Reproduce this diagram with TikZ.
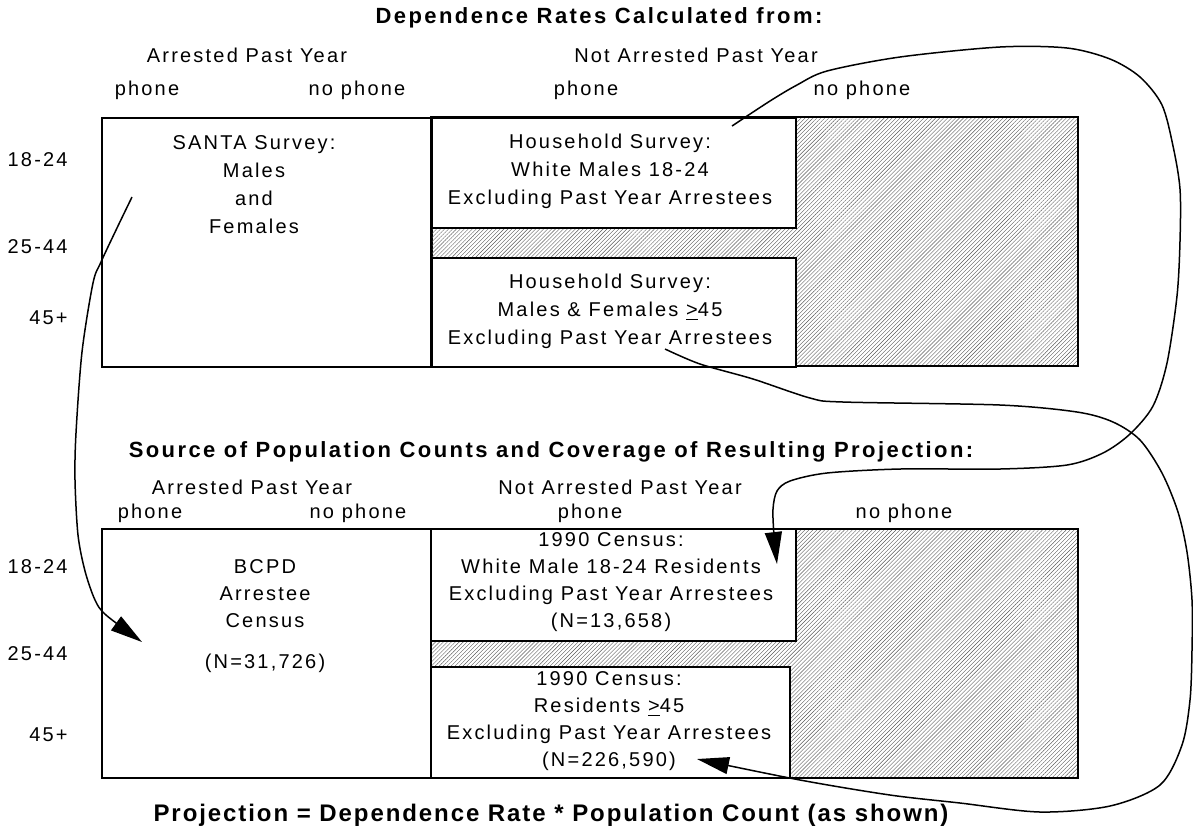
\documentclass[tikz,border=0pt]{standalone}
\usepackage{fontspec}
\setmainfont{Liberation Sans}[LetterSpace=11]
\usetikzlibrary{arrows.meta, patterns.meta}

\begin{document}
\begin{tikzpicture}[x=0.5pt, y=-0.5pt,
  cell/.style={draw, line width=0.9pt, fill=white, inner sep=0pt, anchor=north west},
  hatched/.style={draw, line width=0.9pt, inner sep=0pt, anchor=north west,
    pattern={Lines[angle=45, distance=1.4pt, line width=0.2pt]}, pattern color=black!65},
  lbl/.style={font=\fontsize{10}{14}\selectfont, inner sep=0pt},
  txt/.style={font=\fontsize{10}{14}\selectfont, align=center, inner sep=0pt},
  cntxt/.style={font=\fontsize{10}{13.6}\selectfont, align=center, inner sep=0pt},
  age/.style={font=\fontsize{10}{14}\selectfont, inner sep=0pt, anchor=east},
  head/.style={font=\bfseries\fontsize{11}{13}\selectfont, inner sep=0pt},
  link/.style={line width=0.75pt, -{Triangle[length=16pt, width=8.5pt]}}
]
\useasboundingbox (0,0) rectangle (1193,832);

% dependence rates
\node[head] (title1) at (599,18) {Dependence Rates Calculated from:};
\node[lbl] (arr1) at (247,55) {Arrested Past Year};
\node[lbl] (notarr1) at (696,55) {Not Arrested Past Year};
\node[lbl] (ph1) at (147,90) {phone};
\node[lbl] (noph1) at (357,90) {no phone};
\node[lbl] (ph2) at (586,90) {phone};
\node[lbl] (noph2) at (862,90) {no phone};
\node[age] (ageA1) at (68,160) {18-24};
\node[age] (ageA2) at (68,247) {25-44};
\node[age] (ageA3) at (68,318) {45+};

\node[cell, minimum width=165pt, minimum height=124.5pt] (santa) at (101,117) {};
\node[hatched, minimum width=323.5pt, minimum height=124.5pt] (gapA) at (431,117) {};
\node[cell, minimum width=182pt, minimum height=55pt] (hh1) at (431,117) {};
\node[cell, minimum width=182pt, minimum height=54.5pt] (hh2) at (431,257) {};
\node[txt] (santatxt) at (254,185) {SANTA Survey:\\Males\\and\\Females};
\node[txt] (hh1txt) at (610,171) {Household Survey:\\White Males 18-24\\Excluding Past Year Arrestees};
\node[txt] (hh2txt) at (610,311) {Household Survey:\\Males \& Females \underline{>}45\\Excluding Past Year Arrestees};

% population counts
\node[head] (title2) at (551,452) {Source of Population Counts and Coverage of Resulting Projection:};
\node[lbl] (arr2) at (252,487) {Arrested Past Year};
\node[lbl] (notarr2) at (620,487) {Not Arrested Past Year};
\node[lbl] (ph3) at (150,513) {phone};
\node[lbl] (noph3) at (358,513) {no phone};
\node[lbl] (ph4) at (590,513) {phone};
\node[lbl] (noph4) at (904,513) {no phone};
\node[age] (ageB1) at (68,567) {18-24};
\node[age] (ageB2) at (68,654) {25-44};
\node[age] (ageB3) at (68,735) {45+};

\node[cell, minimum width=164.5pt, minimum height=124.5pt] (bcpd) at (101,528) {};
\node[hatched, minimum width=323.5pt, minimum height=124.5pt] (gapB) at (430,528) {};
\node[cell, minimum width=182.5pt, minimum height=56pt] (cen1) at (430,528) {};
\node[cell, minimum width=179.5pt, minimum height=55.5pt] (cen2) at (430,666) {};
\node[cntxt] (bcpdtxt) at (265,616) {BCPD\\Arrestee\\Census\\[7pt](N=31,726)};
\node[cntxt] (cen1txt) at (611,582) {1990 Census:\\White Male 18-24 Residents\\Excluding Past Year Arrestees\\(N=13,658)};
\node[cntxt] (cen2txt) at (609,721) {1990 Census:\\Residents \underline{>}45\\Excluding Past Year Arrestees\\(N=226,590)};

\node[head, font=\bfseries\fontsize{12}{14}\selectfont\addfontfeatures{LetterSpace=8}] (formula) at (551,815) {Projection = Dependence Rate * Population Count (as shown)};

% connectors
\coordinate (fromsanta) at (132,197);
\coordinate (tobcpd) at (142,642);
\coordinate (fromhh1) at (732,126);
\coordinate (tocen1) at (777,564);
\coordinate (fromhh2) at (665,349);
\coordinate (tocen2) at (697,759);

\draw[link] plot[smooth, tension=0.5] coordinates {(fromsanta) (117,228) (101,262) (93,283)
  (82,352) (76,433) (75,480) (78,535) (85,571) (95,600) (106,615) (tobcpd)};
\draw[link] plot[smooth, tension=0.5] coordinates {(fromhh1) (770,101) (797,85) (827,71) (900,57)
  (1000,47) (1067,48) (1110,59) (1140,77) (1162,105) (1173,146) (1180,189) (1180,241)
  (1177,296) (1167,363) (1153,406) (1130,434) (1103,453) (1067,465) (1000,469) (900,469)
  (827,473) (790,481) (777,491) (773,509) (774,535) (tocen1)};
\draw[link] plot[smooth, tension=0.5] coordinates {(fromhh2) (700,364) (753,379) (810,398)
  (843,402) (1000,405) (1077,412) (1113,422) (1140,440) (1162,473) (1178,512) (1187,552)
  (1192,600) (1192,650) (1190,700) (1182,745) (1160,785) (1110,806) (1040,812) (960,803)
  (890,795) (800,780) (tocen2)};
\end{tikzpicture}
\end{document}
